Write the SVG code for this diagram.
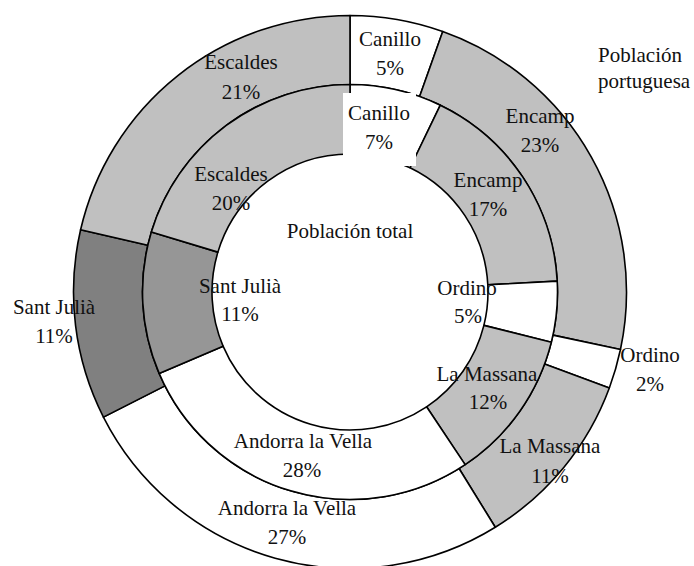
<svg xmlns="http://www.w3.org/2000/svg" width="694" height="566" viewBox="0 0 694 566">
<style>
.s{stroke:#000;stroke-width:1.6;stroke-linejoin:round}
.g{fill:#C0C0C0}.w{fill:#fff}.d{fill:#808080}.m{fill:#969696}
text{font-family:"Liberation Serif","Times New Roman",serif;font-size:21px;fill:#111;text-anchor:middle}
.st{text-anchor:start}
</style>
<rect width="694" height="566" fill="#fff"/>
<g id="outer-ring">
<g id="outer-canillo"><path class="s w" d="M350,15.5 A276.5,276.5 0 0 1 442.75,31.52 L419.61,96.52 A207.5,207.5 0 0 0 350,84.5 Z"/></g>
<g id="outer-encamp"><path class="s g" d="M442.75,31.52 A276.5,276.5 0 0 1 620.46,349.49 L552.97,335.14 A207.5,207.5 0 0 0 419.61,96.52 Z"/></g>
<g id="outer-ordino"><path class="s w" d="M620.46,349.49 A276.5,276.5 0 0 1 609.33,387.93 L544.61,363.99 A207.5,207.5 0 0 0 552.97,335.14 Z"/></g>
<g id="outer-lamassana"><path class="s g" d="M609.33,387.93 A276.5,276.5 0 0 1 495.29,527.25 L459.04,468.54 A207.5,207.5 0 0 0 544.61,363.99 Z"/></g>
<g id="outer-andorra"><path class="s w" d="M495.29,527.25 A276.5,276.5 0 0 1 103.42,417.10 L164.95,385.88 A207.5,207.5 0 0 0 459.04,468.54 Z"/></g>
<g id="outer-santjulia"><path class="s d" d="M103.42,417.10 A276.5,276.5 0 0 1 80.59,229.80 L147.82,245.32 A207.5,207.5 0 0 0 164.95,385.88 Z"/></g>
<g id="outer-escaldes"><path class="s g" d="M80.59,229.80 A276.5,276.5 0 0 1 350,15.5 L350,84.5 A207.5,207.5 0 0 0 147.82,245.32 Z"/></g>
</g>
<g id="inner-ring">
<g id="inner-canillo"><path class="s w" d="M350,84.5 A207.5,207.5 0 0 1 440.31,105.18 L410.06,167.76 A138,138 0 0 0 350,154 Z"/></g>
<g id="inner-encamp"><path class="s g" d="M440.31,105.18 A207.5,207.5 0 0 1 557.22,281.14 L487.81,284.78 A138,138 0 0 0 410.06,167.76 Z"/></g>
<g id="inner-ordino"><path class="s w" d="M557.22,281.14 A207.5,207.5 0 0 1 551.34,342.20 L483.90,325.38 A138,138 0 0 0 487.81,284.78 Z"/></g>
<g id="inner-lamassana"><path class="s g" d="M551.34,342.20 A207.5,207.5 0 0 1 465.13,464.63 L426.57,406.81 A138,138 0 0 0 483.90,325.38 Z"/></g>
<g id="inner-andorra"><path class="s w" d="M465.13,464.63 A207.5,207.5 0 0 1 159.14,373.41 L223.06,346.14 A138,138 0 0 0 426.57,406.81 Z"/></g>
<g id="inner-santjulia"><path class="s m" d="M159.14,373.41 A207.5,207.5 0 0 1 151.36,232.03 L217.89,252.11 A138,138 0 0 0 223.06,346.14 Z"/></g>
<g id="inner-escaldes"><path class="s g" d="M151.36,232.03 A207.5,207.5 0 0 1 350,84.5 L350,154 A138,138 0 0 0 217.89,252.11 Z"/></g>
</g>
<g id="labels">
<g id="label-outer-canillo"><text x="390" y="46">Canillo</text><text x="390" y="75">5%</text></g>
<g id="label-inner-canillo"><rect x="343" y="93" width="73" height="73" fill="#fff"/><text x="379" y="120">Canillo</text><text x="379" y="149">7%</text></g>
<g id="label-outer-escaldes"><text x="241" y="69">Escaldes</text><text x="241" y="99">21%</text></g>
<g id="label-outer-encamp"><text x="540" y="123">Encamp</text><text x="540" y="152">23%</text></g>
<g id="label-inner-escaldes"><text x="231" y="181">Escaldes</text><text x="231" y="210">20%</text></g>
<g id="label-inner-encamp"><text x="488" y="187">Encamp</text><text x="488" y="216">17%</text></g>
<g id="label-total"><text x="350" y="238">Población total</text></g>
<g id="label-inner-santjulia"><text x="240" y="293">Sant Julià</text><text x="240" y="321">11%</text></g>
<g id="label-inner-ordino"><text x="467" y="295">Ordino</text><text x="468" y="323">5%</text></g>
<g id="label-inner-lamassana"><text x="487" y="381">La Massana</text><text x="488" y="409">12%</text></g>
<g id="label-outer-ordino"><text x="650" y="362">Ordino</text><text x="650" y="391">2%</text></g>
<g id="label-outer-lamassana"><text x="550" y="453">La Massana</text><text x="550" y="483">11%</text></g>
<g id="label-inner-andorra"><text x="303" y="448">Andorra la Vella</text><text x="302" y="477">28%</text></g>
<g id="label-outer-andorra"><text x="287" y="515">Andorra la Vella</text><text x="287" y="544">27%</text></g>
<g id="label-outer-santjulia"><text x="54" y="314">Sant Julià</text><text x="54" y="343">11%</text></g>
<g id="label-portuguesa"><text class="st" x="598" y="62">Población</text><text class="st" x="598" y="88">portuguesa</text></g>
</g>
</svg>
